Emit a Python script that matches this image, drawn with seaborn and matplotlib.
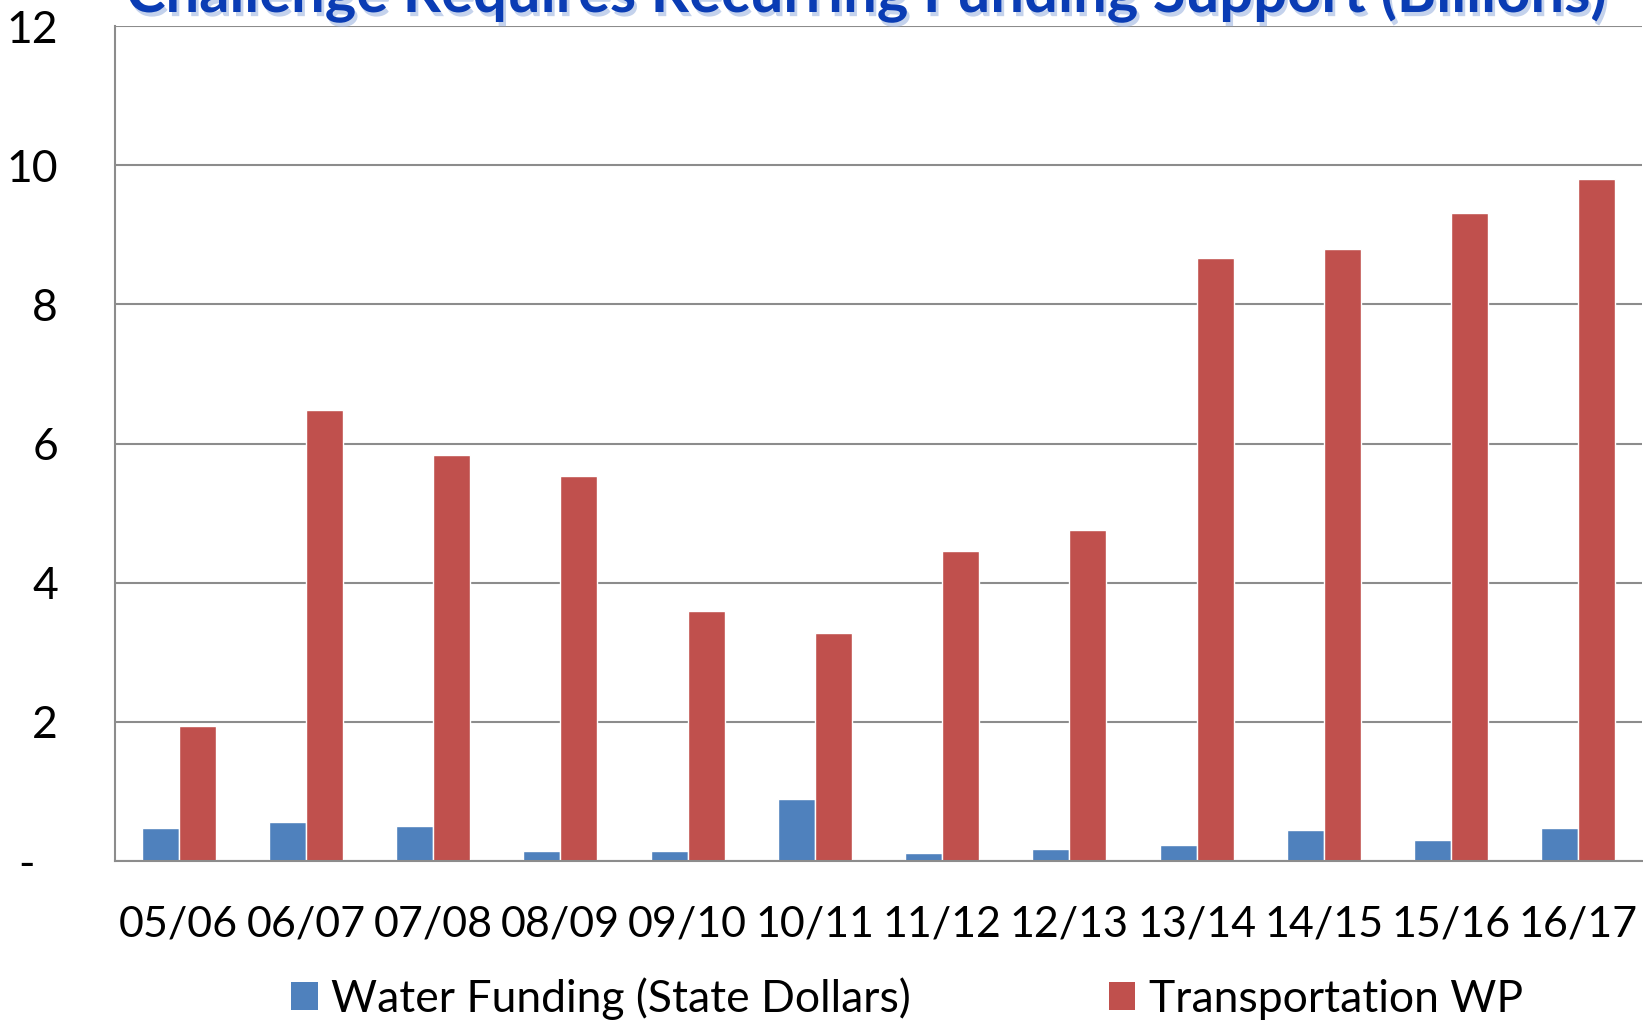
import matplotlib
matplotlib.use("Agg")
import matplotlib.pyplot as plt
import matplotlib.patheffects as pe
from matplotlib.patches import Patch
import seaborn as sns
import pandas as pd

years = ["05/06", "06/07", "07/08", "08/09", "09/10", "10/11",
         "11/12", "12/13", "13/14", "14/15", "15/16", "16/17"]
water = [0.47, 0.56, 0.51, 0.15, 0.14, 0.89, 0.12, 0.17, 0.23, 0.44, 0.30, 0.47]
transport = [1.94, 6.48, 5.84, 5.53, 3.60, 3.27, 4.46, 4.76, 8.67, 8.80, 9.31, 9.80]
series = ["Water Funding (State Dollars)", "Transportation WP"]
colors = ["#4F81BD", "#C0504D"]
y_ticks = [0, 2, 4, 6, 8, 10, 12]
y_labels = ["-  ", "2", "4", "6", "8", "10", "12"]

df = pd.DataFrame({
    "year": years * 2,
    "value": water + transport,
    "series": [series[0]] * len(years) + [series[1]] * len(years),
})

sns.set_style("white")
plt.rcParams["font.family"] = ["Lato", "DejaVu Sans"]
plt.rcParams["text.color"] = "black"
grid_col = "#8C8C8C"

fig = plt.figure(figsize=(16.43, 10.22), dpi=100)
ax = fig.add_axes([115 / 1643, 1 - 861 / 1022, 1527 / 1643, 835 / 1022])

sns.barplot(data=df, x="year", y="value", hue="series", palette=colors,
            width=0.58, gap=0, saturation=1, legend=False, ax=ax)

ax.set_ylim(0, 12)
ax.set_xlim(-0.5, len(years) - 0.5)
ax.set_yticks(y_ticks)
ax.set_yticklabels(y_labels)
ax.set_xlabel("")
ax.set_ylabel("")
ax.yaxis.grid(True, color=grid_col, linewidth=1.5)
ax.set_axisbelow(True)

for s in ["top", "right"]:
    ax.spines[s].set_visible(False)
for s in ["left", "bottom"]:
    ax.spines[s].set_color(grid_col)
    ax.spines[s].set_linewidth(1.5)

ax.set_xticks([i - 0.5 for i in range(len(years) + 1)], minor=True)
ax.tick_params(axis="x", which="major", length=0, pad=32, labelsize=31, labelcolor="black")
ax.tick_params(axis="x", which="minor", length=11, width=1.5, color=grid_col, direction="out")
ax.tick_params(axis="y", length=11, width=1.5, color=grid_col, direction="out", pad=30,
               labelsize=32, labelcolor="black")

handles = [Patch(facecolor=c, edgecolor="none") for c in colors]
fig.legend(handles, series, loc="center", bbox_to_anchor=(907 / 1643, 0.023), ncol=2,
           frameon=False, fontsize=32, handlelength=0.6, handleheight=0.6,
           handletextpad=0.3, columnspacing=4.45, labelcolor="black")

fig.text(867 / 1643, 1 - 12 / 1022, "Challenge Requires Recurring Funding Support (Billions)",
         ha="center", va="baseline", fontsize=43, fontweight="bold", color="#0A3CB4",
         path_effects=[pe.withSimplePatchShadow(offset=(2, -3), shadow_rgbFace="#9DB4E0", alpha=0.6)])

fig.savefig("out.png", dpi=100)
